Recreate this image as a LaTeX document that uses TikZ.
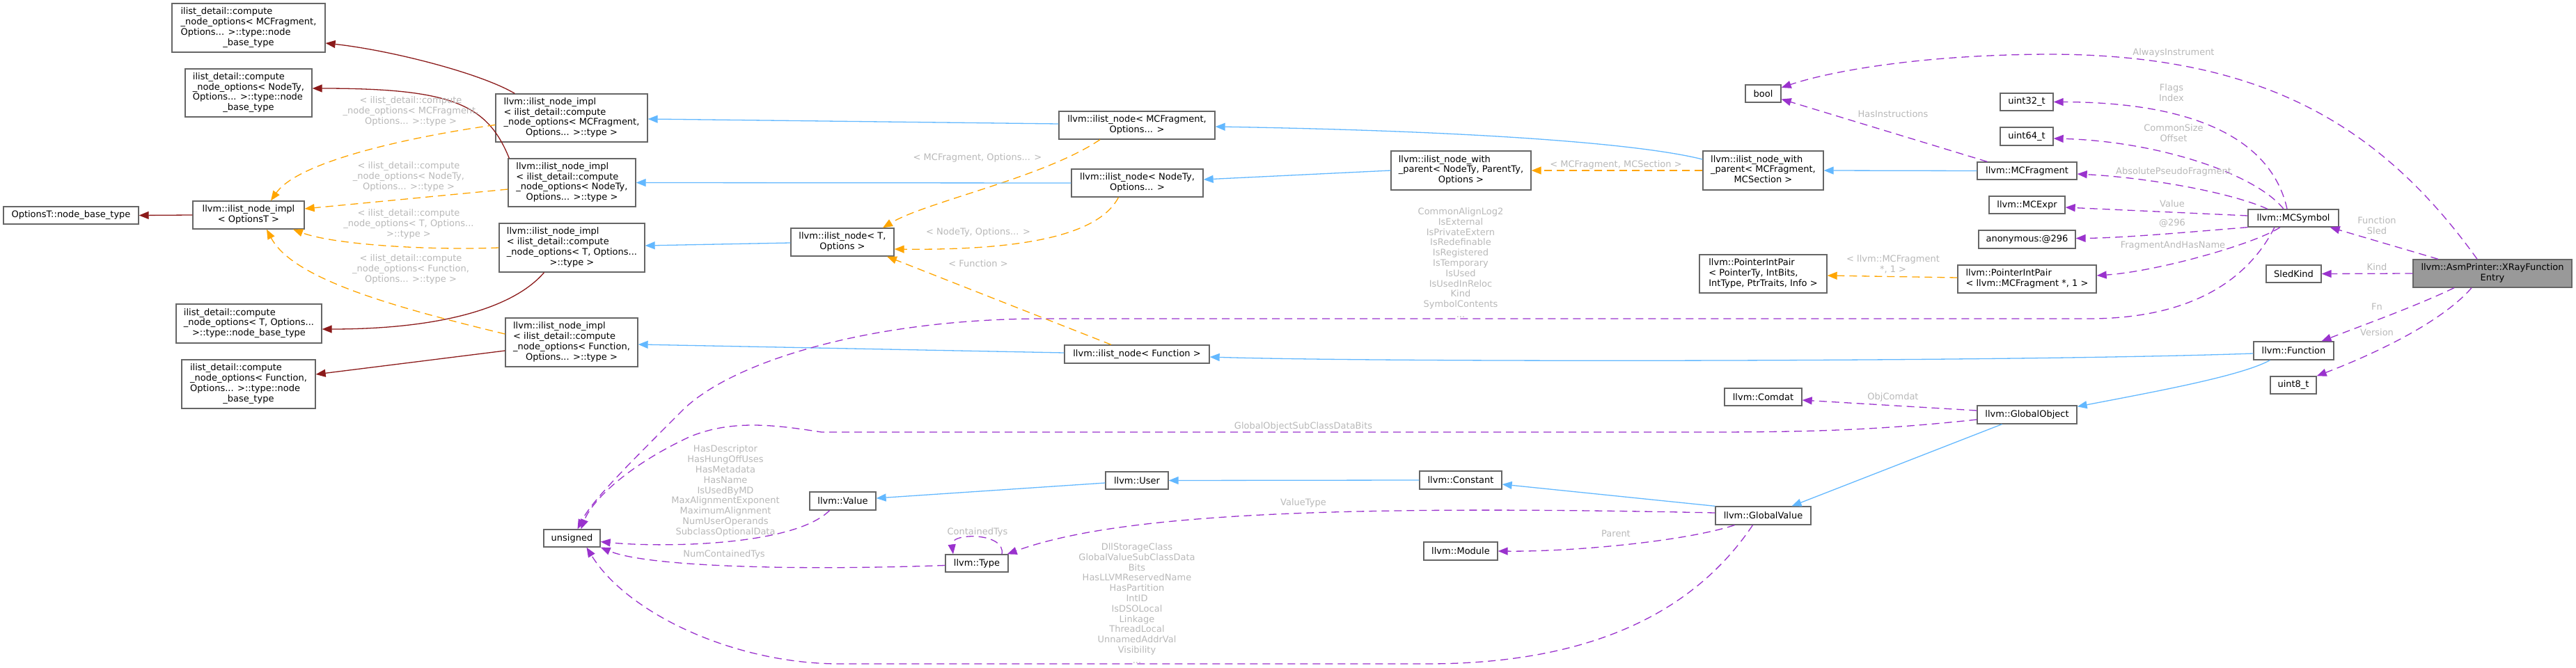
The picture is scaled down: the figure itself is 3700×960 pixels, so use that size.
\documentclass[tikz,border=0pt]{standalone}
\usepackage{fontspec}
\setmainfont{DejaVu Sans}
\usepackage{xcolor}
\usepackage{tikz}
\usetikzlibrary{arrows.meta}
\definecolor{boxline}{HTML}{666666}
\definecolor{mainbg}{HTML}{999999}
\definecolor{pubedge}{HTML}{63B8FF}
\definecolor{privedge}{HTML}{8B1A1A}
\definecolor{useedge}{HTML}{9A32CD}
\definecolor{tpledge}{HTML}{FFA500}
\definecolor{lblgray}{HTML}{B8B8B8}
\newcommand{\dxfont}{\fontsize{13pt}{14.8pt}\selectfont}
\newcommand{\dxtext}[2]{\begin{tabular}{@{}l@{}}#1\\\multicolumn{1}{@{}c@{}}{#2}\end{tabular}}
\tikzset{
    cls/.style={rectangle, draw=boxline, fill=white, line width=1.3pt, align=center, inner sep=0pt, font=\dxfont},
    mainclass/.style={cls, fill=mainbg},
    sz/.style 2 args={minimum width=#1pt, minimum height=#2pt},
    lbl/.style={text=lblgray, align=center, inner sep=0pt, font=\dxfont},
    pubarrow/.style={-{Triangle[length=14pt,width=11pt]}, line width=1.3pt, color=pubedge},
    privarrow/.style={-{Triangle[length=14pt,width=11pt]}, line width=1.3pt, color=privedge},
    tplarrow/.style={-{Triangle[length=14pt,width=11pt]}, line width=1.3pt, dash pattern=on 11pt off 7pt, color=tpledge},
    usearrow/.style={-{Triangle[length=14pt,width=11pt]}, line width=1.3pt, dash pattern=on 11pt off 7pt, color=useedge}
}

\begin{document}
\begin{tikzpicture}[x=1pt, y=-1pt]
    \useasboundingbox (0,0) rectangle (3700,960);

    % ilist base classes
    \node [cls, sz={220}{70}] (cfMC) at (357,40) {\dxtext{ilist\_detail::compute\\\_node\_options< MCFragment,\\Options... >::type::node}{\_base\_type}};
    \node [cls, sz={182}{69}] (cfNT) at (357,133.5) {\dxtext{ilist\_detail::compute\\\_node\_options< NodeTy,\\Options... >::type::node}{\_base\_type}};
    \node [cls, sz={194}{25}] (optBase) at (102,309.5) {OptionsT::node\_base\_type};
    \node [cls, sz={160}{40}] (implOpt) at (357,309) {\dxtext{llvm::ilist\_node\_impl}{< OptionsT >}};
    \node [cls, sz={209}{56}] (cfT) at (357.5,465) {\dxtext{ilist\_detail::compute\\\_node\_options< T, Options...}{>::type::node\_base\_type}};
    \node [cls, sz={192}{70}] (cfFn) at (357,552) {\dxtext{ilist\_detail::compute\\\_node\_options< Function,\\Options... >::type::node}{\_base\_type}};

    \node [cls, sz={218}{69}] (implMC) at (821,169.5) {\dxtext{llvm::ilist\_node\_impl\\< ilist\_detail::compute\\\_node\_options< MCFragment,}{Options... >::type >}};
    \node [cls, sz={183}{69}] (implNT) at (821.5,262.5) {\dxtext{llvm::ilist\_node\_impl\\< ilist\_detail::compute\\\_node\_options< NodeTy,}{Options... >::type >}};
    \node [cls, sz={209}{70}] (implT) at (821.5,356) {\dxtext{llvm::ilist\_node\_impl\\< ilist\_detail::compute\\\_node\_options< T, Options...}{>::type >}};
    \node [cls, sz={190}{70}] (implFn) at (821,492) {\dxtext{llvm::ilist\_node\_impl\\< ilist\_detail::compute\\\_node\_options< Function,}{Options... >::type >}};
    \node [cls, sz={81}{25}] (unsigned) at (821.5,773.5) {unsigned};

    \node [cls, sz={148}{40}] (ilnT) at (1210,348) {\dxtext{llvm::ilist\_node< T,}{Options >}};
    \node [cls, sz={95}{26}] (Value) at (1210.5,720) {llvm::Value};
    \node [cls, sz={90}{25}] (Type) at (1403,809.5) {llvm::Type};
    \node [cls, sz={224}{40}] (ilnMC) at (1633,180) {\dxtext{llvm::ilist\_node< MCFragment,}{Options... >}};
    \node [cls, sz={189}{40}] (ilnNT) at (1633.5,263) {\dxtext{llvm::ilist\_node< NodeTy,}{Options... >}};
    \node [cls, sz={208}{26}] (ilnFn) at (1633,509) {llvm::ilist\_node< Function >};
    \node [cls, sz={90}{25}] (User) at (1633,690.5) {llvm::User};

    \node [cls, sz={201}{56}] (ilnwpNT) at (2098.5,245) {\dxtext{llvm::ilist\_node\_with\\\_parent< NodeTy, ParentTy,}{Options >}};
    \node [cls, sz={118}{26}] (Constant) at (2098,690) {llvm::Constant};
    \node [cls, sz={106}{26}] (Module) at (2098,792) {llvm::Module};

    \node [cls, sz={51}{25}] (bool) at (2532.5,134.5) {bool};
    \node [cls, sz={173}{56}] (ilnwpMC) at (2532.5,245) {\dxtext{llvm::ilist\_node\_with\\\_parent< MCFragment,}{MCSection >}};
    \node [cls, sz={183}{55}] (PIP) at (2532.5,393.5) {\dxtext{llvm::PointerIntPair\\< PointerTy, IntBits,}{IntType, PtrTraits, Info >}};
    \node [cls, sz={111}{25}] (Comdat) at (2532.5,570.5) {llvm::Comdat};
    \node [cls, sz={137}{26}] (GlobalValue) at (2532.5,741) {llvm::GlobalValue};

    \node [cls, sz={76}{25}] (uint32) at (2911,146.5) {uint32\_t};
    \node [cls, sz={76}{26}] (uint64) at (2911,196) {uint64\_t};
    \node [cls, sz={143}{25}] (MCFragment) at (2911.5,245.5) {llvm::MCFragment};
    \node [cls, sz={109}{25}] (MCExpr) at (2911.5,294.5) {llvm::MCExpr};
    \node [cls, sz={139}{26}] (anon) at (2911.5,344) {anonymous:@296};
    \node [cls, sz={199}{40}] (PIPMC) at (2911.5,401) {\dxtext{llvm::PointerIntPair}{< llvm::MCFragment *, 1 >}};
    \node [cls, sz={143}{26}] (GlobalObject) at (2911.5,596) {llvm::GlobalObject};

    \node [cls, sz={130}{25}] (MCSymbol) at (3294,313.5) {llvm::MCSymbol};
    \node [cls, sz={79}{25}] (SledKind) at (3294.5,393.5) {SledKind};
    \node [cls, sz={115}{26}] (Function) at (3294.5,504) {llvm::Function};
    \node [cls, sz={66}{25}] (uint8) at (3294,553.5) {uint8\_t};
    \node [mainclass, sz={228}{40}] (XRay) at (3580,393) {\dxtext{llvm::AsmPrinter::XRayFunction}{Entry}};

    % private bases
    \draw [privarrow] ([xshift=28pt]implMC.north west) .. controls (690,105) and (560,72) .. ([yshift=-22pt]cfMC.east);
    \draw [privarrow] ([xshift=2pt]implNT.north west) .. controls (700,150) and (650,127) .. ([yshift=6.5pt]cfNT.east);
    \draw [privarrow] (implOpt.west) -- (optBase.east);
    \draw [privarrow] ([xshift=-40pt]implT.south) .. controls (740,440) and (640,473) .. ([yshift=-8pt]cfT.east);
    \draw [privarrow] ([yshift=-12pt]implFn.west) -- ([yshift=14pt]cfFn.east);

    % template instances
    \draw [tplarrow] ([yshift=-10pt]implMC.west) .. controls (600,195) and (430,230) .. ([xshift=32pt]implOpt.north);
    \draw [tplarrow] ([yshift=-9.5pt]implNT.west) -- ([yshift=9pt]implOpt.east);
    \draw [tplarrow] (implT.west) .. controls (620,360) and (480,352) .. ([xshift=64pt]implOpt.south);
    \draw [tplarrow] ([yshift=12pt]implFn.west) .. controls (560,440) and (420,400) .. ([xshift=26pt]implOpt.south);
    \draw [tplarrow] ([xshift=-53pt]ilnMC.south) .. controls (1500,255) and (1330,290) .. ([xshift=58pt]ilnT.north);
    \draw [tplarrow] ([xshift=-27pt]ilnNT.south) .. controls (1580,335) and (1480,360) .. ([yshift=-10pt]ilnT.east);
    \draw [tplarrow] ([xshift=-37pt]ilnFn.north) -- ([xshift=64pt]ilnT.south);
    \draw [tplarrow] (ilnwpMC.west) -- (ilnwpNT.east);
    \draw [tplarrow] ([yshift=2pt]PIPMC.west) -- ([yshift=-2.5pt]PIP.east);

    \node [lbl] (lblMC) at (590,160) {< ilist\_detail::compute\\\_node\_options< MCFragment,\\Options... >::type >};
    \node [lbl] (lblNT) at (587,254) {< ilist\_detail::compute\\\_node\_options< NodeTy,\\Options... >::type >};
    \node [lbl] (lblT) at (587,322) {< ilist\_detail::compute\\\_node\_options< T, Options...\\>::type >};
    \node [lbl] (lblFn) at (590,387) {< ilist\_detail::compute\\\_node\_options< Function,\\Options... >::type >};
    \node [lbl] (lblNodeMC) at (1404,227) {< MCFragment, Options... >};
    \node [lbl] (lblNodeNT) at (1405,334) {< NodeTy, Options... >};
    \node [lbl] (lblNodeFn) at (1405,379) {< Function >};
    \node [lbl] (lblParent) at (2321,237) {< MCFragment, MCSection >};
    \node [lbl] (lblPIP) at (2719,380) {< llvm::MCFragment\\*, 1 >};

    % public bases
    \draw [pubarrow] ([yshift=2pt]ilnMC.west) -- ([yshift=-1.5pt]implMC.east);
    \draw [pubarrow] (ilnNT.west) -- (implNT.east);
    \draw [pubarrow] ([yshift=-1pt]ilnT.west) -- ([yshift=3pt]implT.east);
    \draw [pubarrow] ([yshift=2pt]ilnFn.west) -- ([yshift=-3pt]implFn.east);
    \draw [pubarrow] ([yshift=16pt]ilnwpMC.west) .. controls (2350,205) and (2100,188) .. ([yshift=-2pt]ilnMC.east);
    \draw [pubarrow] (ilnwpNT.west) -- ([yshift=5pt]ilnNT.east);
    \draw [pubarrow] (MCFragment.west) -- (ilnwpMC.east);
    \draw [pubarrow] ([yshift=-4pt]Function.west) .. controls (2900,520) and (2000,521) .. ([yshift=-4pt]ilnFn.east);
    \draw [pubarrow] ([xshift=-34pt]Function.south) .. controls (3220,540) and (3100,562) .. ([yshift=-2pt]GlobalObject.north east);
    \draw [pubarrow] ([xshift=-36pt]GlobalObject.south) -- ([xshift=41pt]GlobalValue.north);
    \draw [pubarrow] (GlobalValue.north west) -- ([yshift=-6pt]Constant.east);
    \draw [pubarrow] (Constant.west) -- (User.east);
    \draw [pubarrow] ([yshift=-3.5pt]User.west) -- ([yshift=4pt]Value.east);

    % usage
    \draw [usearrow] ([xshift=-22pt]XRay.north) .. controls (3420,180) and (3250,80) .. (2950,78) .. controls (2750,78) and (2620,105) .. ([yshift=8.5pt]bool.east);
    \draw [usearrow] ([xshift=15pt]MCFragment.north west) -- ([yshift=-8pt]bool.east);
    \draw [usearrow] ([xshift=-9pt]MCSymbol.north) .. controls (3265,210) and (3170,147) .. (uint32.east);
    \draw [usearrow] ([xshift=-14pt]MCSymbol.north) .. controls (3240,250) and (3100,203) .. ([yshift=-3pt]uint64.east);
    \draw [usearrow] ([xshift=-37pt]MCSymbol.north) .. controls (3200,275) and (3080,255) .. ([yshift=-4.5pt]MCFragment.east);
    \draw [usearrow] ([yshift=3.5pt]MCSymbol.west) -- ([yshift=-3.5pt]MCExpr.east);
    \draw [usearrow] (MCSymbol.south west) .. controls (3150,333) and (3050,342) .. ([yshift=1.5pt]anon.east);
    \draw [usearrow] ([xshift=-19pt]MCSymbol.south) .. controls (3240,350) and (3100,390) .. ([yshift=5pt]PIPMC.east);
    \draw [usearrow] ([xshift=-27pt]MCSymbol.south) .. controls (3230,400) and (3150,458) .. (3000,458) -- (1500,458) .. controls (1250,458) and (1050,520) .. (980,590) .. controls (900,670) and (850,720) .. ([xshift=8pt]unsigned.north);
    \draw [usearrow] ([xshift=-78pt]XRay.north) -- ([xshift=-13pt]MCSymbol.south east);
    \draw [usearrow] (XRay.west) -- (SledKind.east);
    \draw [usearrow] ([xshift=-55pt]XRay.south) .. controls (3470,440) and (3400,465) .. ([xshift=40pt]Function.north);
    \draw [usearrow] ([xshift=-30pt]XRay.south) .. controls (3510,460) and (3420,505) .. (uint8.north east);
    \draw [usearrow] ([yshift=6pt]GlobalObject.west) -- ([yshift=-4.5pt]Comdat.east);
    \draw [usearrow] ([yshift=-7pt]GlobalObject.west) .. controls (2700,618) and (2600,621) .. (2450,621) -- (1180,621) .. controls (1110,610) and (1050,603) .. (990,628) .. controls (900,670) and (850,720) .. ([xshift=13pt]unsigned.north);
    \draw [usearrow] ([xshift=-19pt]Value.south) .. controls (1140,785) and (950,787) .. ([yshift=-5pt]unsigned.east);
    \draw [usearrow] ([yshift=-3pt]Type.west) .. controls (1150,820) and (930,815) .. (unsigned.south east);
    \draw [usearrow] ([xshift=36pt]Type.north) .. controls (1445,765) and (1365,765) .. ([xshift=-34pt]Type.north);
    \draw [usearrow] ([yshift=4pt]GlobalValue.west) .. controls (1900,725) and (1600,740) .. ([xshift=-2pt]Type.north east);
    \draw [usearrow] ([xshift=-41pt]GlobalValue.south) .. controls (2420,778) and (2260,793) .. (Module.east);
    \draw [usearrow] ([xshift=-15pt]GlobalValue.south) .. controls (2440,870) and (2300,954) .. (2050,954) -- (1200,954) .. controls (1050,952) and (900,880) .. ([xshift=21pt]unsigned.south);

    \node [lbl] (lblAlways) at (3122,76) {AlwaysInstrument};
    \node [lbl] (lblHasInstr) at (2719,164) {HasInstructions};
    \node [lbl] (lblFlags) at (3119,133.5) {Flags\\Index};
    \node [lbl] (lblSize) at (3122,191) {CommonSize\\Offset};
    \node [lbl] (lblAbsFrag) at (3122,247) {AbsolutePseudoFragment};
    \node [lbl] (lblValue) at (3120,293) {Value};
    \node [lbl] (lblAnon) at (3120,321) {@296};
    \node [lbl] (lblFragName) at (3121,353) {FragmentAndHasName};
    \node [lbl] (lblSymBits) at (2098,377.5) {CommonAlignLog2\\IsExternal\\IsPrivateExtern\\IsRedefinable\\IsRegistered\\IsTemporary\\IsUsed\\IsUsedInReloc\\Kind\\SymbolContents\\...};
    \node [lbl] (lblSled) at (3414,324) {Function\\Sled};
    \node [lbl] (lblKind) at (3414,384) {Kind};
    \node [lbl] (lblFn) at (3414,441) {Fn};
    \node [lbl] (lblVersion) at (3414,478) {Version};
    \node [lbl] (lblComdat) at (2719,571) {ObjComdat};
    \node [lbl] (lblGOBits) at (1872,613) {GlobalObjectSubClassDataBits};
    \node [lbl] (lblValueType) at (1872,723) {ValueType};
    \node [lbl] (lblModule) at (2321,767) {Parent};
    \node [lbl] (lblContained) at (1404,765) {ContainedTys};
    \node [lbl] (lblValBits) at (1042,705.5) {HasDescriptor\\HasHungOffUses\\HasMetadata\\HasName\\IsUsedByMD\\MaxAlignmentExponent\\MaximumAlignment\\NumUserOperands\\SubclassOptionalData};
    \node [lbl] (lblNumTys) at (1040,797) {NumContainedTys};
    \node [lbl] (lblGVBits) at (1633,867) {DllStorageClass\\GlobalValueSubClassData\\Bits\\HasLLVMReservedName\\HasPartition\\IntID\\IsDSOLocal\\Linkage\\ThreadLocal\\UnnamedAddrVal\\Visibility\\...};
\end{tikzpicture}
\end{document}
